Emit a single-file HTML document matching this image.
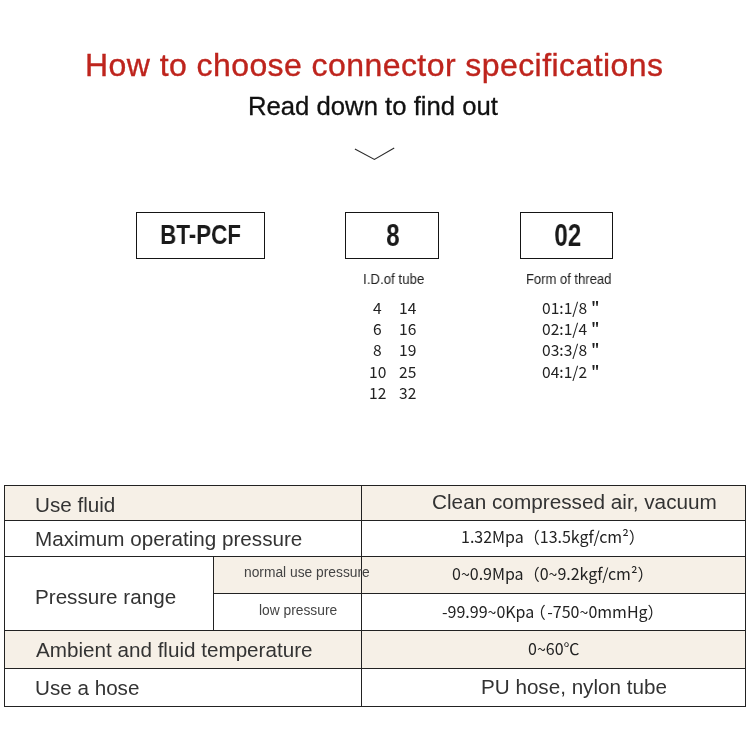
<!DOCTYPE html>
<html lang="en">
<head>
<meta charset="utf-8">
<title>How to choose connector specifications</title>
<style>
html,body{margin:0;padding:0;background:#fff;}
body{width:750px;height:750px;position:relative;overflow:hidden;font-family:"Liberation Sans",Arial,sans-serif;color:#333;}
.t{position:absolute;white-space:nowrap;line-height:1;margin:0;padding:0;will-change:transform;}
.cjk{font-family:"Noto Sans CJK SC","Liberation Sans",sans-serif;}
.title{left:85px;top:49px;font-size:32px;letter-spacing:0.43px;color:#be241d;-webkit-text-stroke:0.35px #be241d;}
.sub{left:247.6px;top:94px;font-size:25.7px;color:#111;-webkit-text-stroke:0.3px #111;}
.box{position:absolute;border:1px solid #151515;box-sizing:border-box;top:212px;height:47px;background:#fff;}
.code{position:absolute;left:1px;right:-1px;top:6px;text-align:center;font-weight:bold;font-size:32px;line-height:1;color:#1a1a1a;white-space:nowrap;}
.code span{display:inline-block;will-change:transform;transform:scaleX(0.76);transform-origin:50% 50%;}
.lab{font-size:14px;color:#222;transform-origin:0 0;transform:scaleX(0.92);}
.num{font-size:15.6px;color:#222;}
.q{position:relative;left:0.6px;top:-2px;font-size:0.9em;}
.tbl{position:absolute;left:4px;top:485px;width:742px;height:222px;box-sizing:border-box;}
.bg{position:absolute;background:#f6f0e7;}
.hl{position:absolute;height:1px;background:#222;}
.vl{position:absolute;width:1px;background:#222;}
.big{font-size:20.65px;color:#333;}
.small{font-size:13.8px;color:#444;}
.val{font-size:16px;color:#222;}
</style>
</head>
<body>
<h1 class="t title" style="font-weight:normal">How to choose connector specifications</h1>
<p class="t sub">Read down to find out</p>
<svg style="position:absolute;left:350px;top:144px" width="50" height="20" viewBox="0 0 50 20"><polyline points="4.9,5 24.4,15.4 44.2,4.1" fill="none" stroke="#2a2a2a" stroke-width="1.1"/></svg>

<div class="box" style="left:136px;width:129px"><div class="code" style="font-size:28px;top:8px;left:-1px"><span style="transform:scaleX(0.80)">BT-PCF</span></div></div>
<div class="box" style="left:345px;width:94px"><div class="code"><span>8</span></div></div>
<div class="box" style="left:520px;width:93px"><div class="code"><span>02</span></div></div>

<div class="t lab" style="left:363.3px;top:272px;transform:scaleX(0.95)">I.D.of tube</div>
<div class="t lab" style="left:526.3px;top:272px;transform:scaleX(0.93)">Form of thread</div>

<div class="t num cjk" style="left:373px;top:300px">4</div>
<div class="t num cjk" style="left:373px;top:321px">6</div>
<div class="t num cjk" style="left:373px;top:342px">8</div>
<div class="t num cjk" style="left:369px;top:364px">10</div>
<div class="t num cjk" style="left:369px;top:385px">12</div>
<div class="t num cjk" style="left:399px;top:300px">14</div>
<div class="t num cjk" style="left:399px;top:321px">16</div>
<div class="t num cjk" style="left:399px;top:342px">19</div>
<div class="t num cjk" style="left:399px;top:364px">25</div>
<div class="t num cjk" style="left:399px;top:385px">32</div>

<div class="t num cjk" style="left:542px;top:300px">01:1/8 <b class="q">"</b></div>
<div class="t num cjk" style="left:542px;top:321px">02:1/4 <b class="q">"</b></div>
<div class="t num cjk" style="left:542px;top:342px">03:3/8 <b class="q">"</b></div>
<div class="t num cjk" style="left:542px;top:364px">04:1/2 <b class="q">"</b></div>

<!-- table -->
<div class="bg" style="left:4px;top:485px;width:742px;height:35px"></div>
<div class="bg" style="left:213px;top:556px;width:533px;height:38px"></div>
<div class="bg" style="left:4px;top:630px;width:742px;height:38px"></div>

<div class="hl" style="left:4px;top:485px;width:742px"></div>
<div class="hl" style="left:4px;top:520px;width:742px"></div>
<div class="hl" style="left:4px;top:556px;width:742px"></div>
<div class="hl" style="left:213px;top:593px;width:533px"></div>
<div class="hl" style="left:4px;top:630px;width:742px"></div>
<div class="hl" style="left:4px;top:668px;width:742px"></div>
<div class="hl" style="left:4px;top:706px;width:742px"></div>
<div class="vl" style="left:4px;top:485px;height:222px"></div>
<div class="vl" style="left:745px;top:485px;height:222px"></div>
<div class="vl" style="left:361px;top:485px;height:222px"></div>
<div class="vl" style="left:213px;top:556px;height:75px"></div>

<div class="t big" style="left:35px;top:495px">Use fluid</div>
<div class="t big" style="left:35px;top:529px">Maximum operating pressure</div>
<div class="t big" style="left:35px;top:587px">Pressure range</div>
<div class="t big" style="left:36px;top:640px">Ambient and fluid temperature</div>
<div class="t big" style="left:35px;top:678px">Use a hose</div>

<div class="t small" style="left:244px;top:566px">normal use pressure</div>
<div class="t small" style="left:258.5px;top:604px">low pressure</div>

<div class="t big" style="left:431.5px;top:492px;font-size:20.75px">Clean compressed air, vacuum</div>
<div class="t val cjk" style="left:461px;top:528px">1.32Mpa（13.5kgf/cm²）</div>
<div class="t val cjk" style="left:452px;top:565px">0~0.9Mpa（0~9.2kgf/cm²）</div>
<div class="t val cjk" style="left:442px;top:603px">-99.99~0Kpa<span style="margin-left:-4.6px;margin-right:1.6px">（</span>-750~0mmHg）</div>
<div class="t val cjk" style="left:527.5px;top:640px">0~60℃</div>
<div class="t big" style="left:480.5px;top:677px">PU hose, nylon tube</div>
</body>
</html>
